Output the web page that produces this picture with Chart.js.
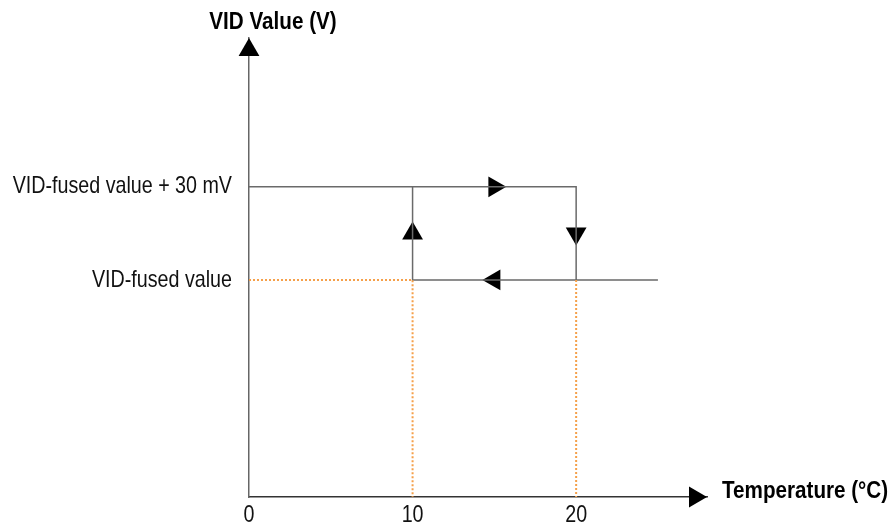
<!DOCTYPE html>
<html>
<head>
<meta charset="utf-8">
<script src="https://cdn.jsdelivr.net/npm/chart.js@4.4.1/dist/chart.umd.min.js"></script>
<style>
  html, body { margin: 0; padding: 0; background: #fff; }
  #wrap { width: 892px; height: 527px; }
</style>
</head>
<body>
<div id="wrap"><canvas id="chart"></canvas></div>
<script>
// levels in mV-ish units above the axis origin
const fusedLevel = 70
const raisedLevel = 100 // fused value + 30 mV
const tempTicks = [0, 10, 20]
const vidTicks = [fusedLevel, raisedLevel]
const vidTickLabels = ['VID-fused value', 'VID-fused value + 30 mV']

// hysteresis loop, two polylines
const upperPath = [{ x: 0, y: 100 }, { x: 20, y: 100 }, { x: 20, y: 70 }]
const lowerPath = [{ x: 25, y: 70 }, { x: 10, y: 70 }, { x: 10, y: 100 }]
// dotted guides down to the temperature axis
const guideAt10 = [{ x: 0, y: 70 }, { x: 10, y: 70 }, { x: 10, y: 0 }]
const guideAt20 = [{ x: 20, y: 70 }, { x: 20, y: 0 }]
// direction markers on the loop
const flowArrows = [{ x: 15, y: 100 }, { x: 20, y: 85 }, { x: 15, y: 70 }, { x: 10, y: 85 }]
const flowRotation = [90, 180, 270, 0]

const FONT = '"Liberation Sans", Arial, sans-serif'
Chart.defaults.font.family = FONT

const ARROW_R = 12
// no condensed face installed, so squeeze the text
const SQUEEZE = 0.82
const SQUEEZE_BOLD = 0.86

function triangle(ctx, x, y, rotDeg) {
  // same geometry as Chart.js 'triangle' point style
  let rad = rotDeg * Math.PI / 180
  ctx.beginPath()
  for (let i = 0; i < 3; i++) {
    const px = x + Math.sin(rad) * ARROW_R
    const py = y - Math.cos(rad) * ARROW_R
    if (i === 0) ctx.moveTo(px, py)
    else ctx.lineTo(px, py)
    rad += 2 * Math.PI / 3
  }
  ctx.closePath()
  ctx.fill()
}

function narrowText(ctx, text, x, y, align, squeeze) {
  ctx.save()
  ctx.translate(x, y)
  ctx.scale(squeeze, 1)
  ctx.textAlign = align
  ctx.textBaseline = 'middle'
  ctx.fillText(text, 0, 0)
  ctx.restore()
}

const axisDecor = {
  id: 'axisDecor',
  afterDraw(chart) {
    const { ctx, chartArea, scales } = chart
    const { left, top, right, bottom } = chartArea
    ctx.save()
    ctx.fillStyle = '#000'
    // arrow heads, tip on the chart area edge
    triangle(ctx, left, top + ARROW_R, 0)
    triangle(ctx, right - ARROW_R, bottom, 90)

    ctx.fillStyle = '#111'
    ctx.font = '24px ' + FONT
    scales.x.ticks.forEach(t => {
      narrowText(ctx, String(t.value), scales.x.getPixelForValue(t.value), bottom + 18, 'center', SQUEEZE)
    })
    scales.y.ticks.forEach(t => {
      const label = vidTickLabels[vidTicks.indexOf(t.value)]
      narrowText(ctx, label, left - 17, scales.y.getPixelForValue(t.value), 'right', SQUEEZE)
    })

    ctx.fillStyle = '#000'
    ctx.font = 'bold 24px ' + FONT
    narrowText(ctx, 'VID Value (V)', left + 24, 22, 'center', SQUEEZE_BOLD)
    narrowText(ctx, 'Temperature (°C)', right + 15, bottom - 6, 'left', SQUEEZE_BOLD)
    ctx.restore()
  }
}

const lineStyle = {
  showLine: true,
  pointRadius: 0,
  borderColor: '#6a6a6a',
  borderWidth: 1.5,
  fill: false,
  clip: false
}
const guideStyle = {
  showLine: true,
  pointRadius: 0,
  borderColor: '#f5a04a',
  borderWidth: 2,
  borderDash: [2, 2],
  fill: false,
  clip: false
}

new Chart(document.getElementById('chart'), {
  type: 'scatter',
  data: {
    datasets: [
      { ...guideStyle, data: guideAt10 },
      { ...guideStyle, data: guideAt20 },
      { ...lineStyle, data: upperPath },
      { ...lineStyle, data: lowerPath },
      {
        data: flowArrows,
        showLine: false,
        pointStyle: 'triangle',
        pointRadius: ARROW_R,
        pointRotation: ctx => flowRotation[ctx.dataIndex],
        backgroundColor: '#000',
        borderColor: '#000',
        borderWidth: 0,
        clip: false
      }
    ]
  },
  options: {
    responsive: true,
    maintainAspectRatio: false,
    animation: false,
    layout: { padding: { top: 38, right: 185, left: 0, bottom: 0 } },
    plugins: {
      legend: { display: false },
      tooltip: { enabled: false }
    },
    scales: {
      x: {
        type: 'linear',
        min: 0,
        max: 28,
        grid: { display: false, drawTicks: false },
        border: { display: true, color: '#333', width: 1.5 },
        afterBuildTicks: scale => { scale.ticks = tempTicks.map(v => ({ value: v })) },
        afterFit: scale => { scale.height = 30 },
        // labels are drawn squeezed by axisDecor
        ticks: { display: false }
      },
      y: {
        type: 'linear',
        min: 0,
        max: 148,
        grid: { display: false, drawTicks: false },
        border: { display: true, color: '#666', width: 1.5 },
        afterBuildTicks: scale => { scale.ticks = vidTicks.map(v => ({ value: v })) },
        afterFit: scale => { scale.width = 249 },
        ticks: { display: false }
      }
    }
  },
  plugins: [axisDecor]
})
</script>
</body>
</html>
